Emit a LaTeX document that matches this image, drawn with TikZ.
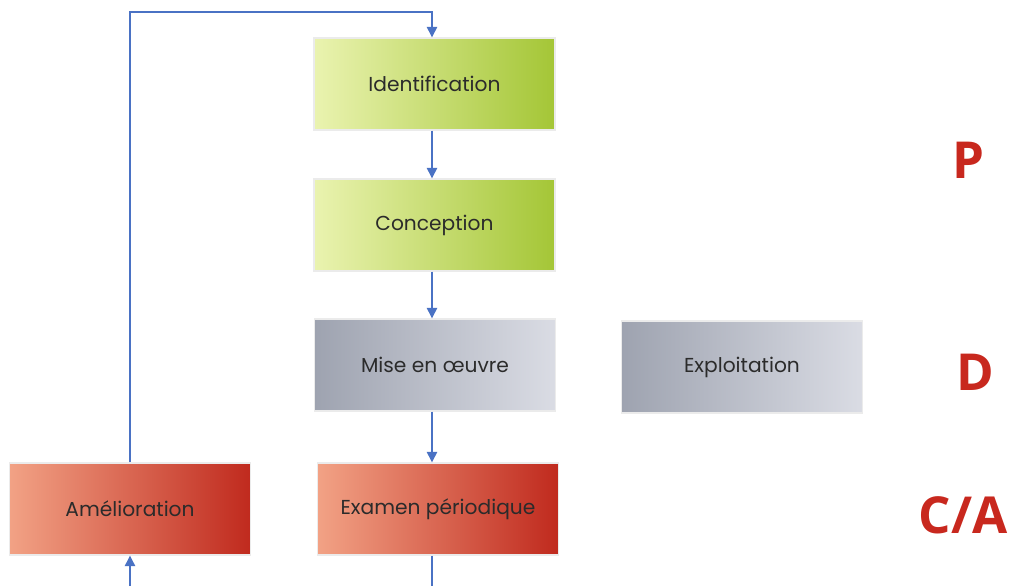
\documentclass[tikz,border=0pt]{standalone}
\usepackage{fontspec}
\setmainfont{Poppins}
\newfontfamily\labfont{Open Sans}
\usetikzlibrary{arrows.meta}
\definecolor{arr}{HTML}{4A72C4}
\definecolor{labred}{HTML}{C8281E}
\definecolor{gL}{HTML}{EAF3B0}
\definecolor{gM}{HTML}{CFE27A}
\definecolor{gR}{HTML}{A4C636}
\definecolor{sL}{HTML}{9EA3B0}
\definecolor{sM}{HTML}{BCC0CB}
\definecolor{sR}{HTML}{DADCE4}
\definecolor{rL}{HTML}{F2A285}
\definecolor{rM}{HTML}{D9583A}
\definecolor{rR}{HTML}{C02A1E}
\definecolor{txt}{HTML}{2B2B2B}
\tikzset{
  box/.style={minimum width=4.82cm, minimum height=1.84cm, inner sep=0pt,
    draw=black!8, line width=0.8pt, text=txt, font=\fontsize{11.5}{14}\selectfont,
    append after command={
      \pgfextra{\draw[white,opacity=0.45,line width=3pt]
        ([shift={(2.5pt,-2.5pt)}]\tikzlastnode.north west) rectangle
        ([shift={(-2.5pt,2.5pt)}]\tikzlastnode.south east);}}},
  green/.style={box, left color=gL, middle color=gM, right color=gR},
  grey/.style={box, left color=sL, middle color=sM, right color=sR},
  red/.style={box, left color=rL, middle color=rM, right color=rR},
  conn/.style={draw=arr, line width=0.7pt, -{Triangle[length=6pt,width=6pt]}},
  plain/.style={draw=arr, line width=0.7pt},
  lab/.style={text=labred, font=\labfont\bfseries\fontsize{29}{32}\selectfont}
}
\begin{document}
\begin{tikzpicture}[x=0.02cm,y=-0.02cm]
\useasboundingbox (0,0) rectangle (1012,586);
\node[green] (ident) at (434.5,84) {Identification};
\node[green] (conc) at (434.5,225) {Conception};
\node[grey] (mise) at (435,365) {Mise en œuvre};
\node[grey] (expl) at (742,367) {Exploitation};
\node[red] (exam) at (438,509) {Examen périodique};
\node[red] (amel) at (130,509) {Amélioration};
\coordinate (tl) at (130,12);
\coordinate (tr) at (432,12);
\coordinate (bl) at (130,586);
\coordinate (br) at (432,586);
\draw[conn] (amel.north -| tl) -- (tl) -- (tr) -- (tr |- ident.north);
\draw[conn] (ident.south -| tr) -- (tr |- conc.north);
\draw[conn] (conc.south -| tr) -- (tr |- mise.north);
\draw[conn] (mise.south -| tr) -- (tr |- exam.north);
\draw[plain] (exam.south -| br) -- (br);
\draw[conn] (bl) -- (bl |- amel.south);
\node[lab] (P) at (968,160) {P};
\node[lab] (D) at (975,372) {D};
\node[lab] (CA) at (963,515) {C/A};
\end{tikzpicture}
\end{document}
